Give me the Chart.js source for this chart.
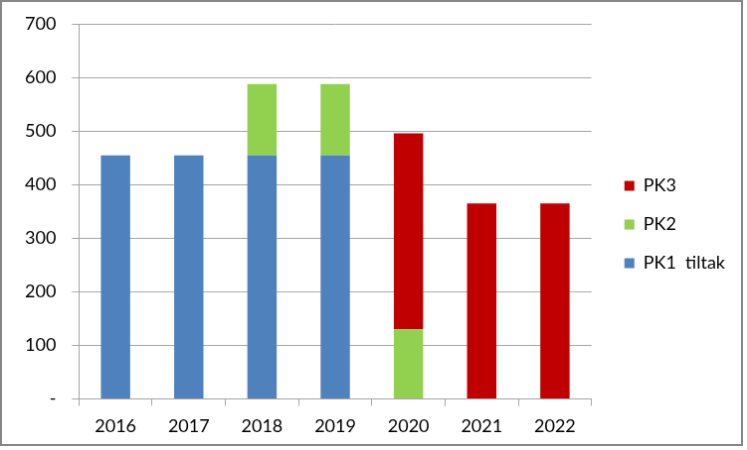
<!DOCTYPE html>
<html>
<head>
<meta charset="utf-8">
<script src="https://cdn.jsdelivr.net/npm/chart.js@4/dist/chart.umd.min.js"></script>
<style>
  body { margin: 0; background: #fff; }
  #chart { display: block; border: 2px solid #878787; }
</style>
</head>
<body>
<canvas id="chart" width="743" height="446"></canvas>
<script>
// kategorier og verdier
const years = ["2016", "2017", "2018", "2019", "2020", "2021", "2022"];
const pk1 = [455, 455, 455, 455, 0, 0, 0];   // PK1 tiltak
const pk2 = [0, 0, 133, 133, 130, 0, 0];     // PK2
const pk3 = [0, 0, 0, 0, 366, 365, 365];     // PK3
const yTicks = [0, 100, 200, 300, 400, 500, 600, 700];

const gridColor = "#a6a6a6";
const fontFam = "Lato, 'Open Sans', sans-serif";

// flytter legenden litt til høyre
const legendShift = {
  id: "legendShift",
  afterLayout(chart) {
    chart.legend.left += 12;
    chart.legend.right += 12;
  }
};

const config = {
  type: "bar",
  data: {
    labels: years,
    datasets: [
      { label: "PK1  tiltak", data: pk1, backgroundColor: "#4f81bd" },
      { label: "PK2", data: pk2, backgroundColor: "#92d050" },
      { label: "PK3", data: pk3, backgroundColor: "#c00000" }
    ]
  },
  options: {
    responsive: false,
    animation: false,
    categoryPercentage: 1,
    barPercentage: 0.4,
    layout: { padding: { top: 0, left: 7, right: 18, bottom: -3 } },
    plugins: {
      tooltip: { enabled: false },
      legend: {
        position: "right",
        reverse: true,
        labels: {
          boxWidth: 10,
          boxHeight: 10,
          padding: 21,
          color: "#000",
          font: { family: fontFam, size: 18 }
        }
      }
    },
    scales: {
      x: {
        stacked: true,
        grid: { drawOnChartArea: false, drawTicks: true, tickLength: 7, color: gridColor, offset: true },
        border: { color: gridColor },
        ticks: { color: "#000", padding: 10, font: { family: fontFam, size: 18 } }
      },
      y: {
        stacked: true,
        min: 0,
        max: 700,
        afterBuildTicks: (axis) => { axis.ticks = yTicks.map(v => ({ value: v })); },
        grid: { color: gridColor, tickLength: 7 },
        border: { color: gridColor },
        ticks: {
          color: "#000",
          padding: 16,
          font: { family: fontFam, size: 18, lineHeight: 0.7 },
          callback: (v) => v === 0 ? "-" : v
        }
      }
    }
  },
  plugins: [legendShift]
};

let myChart = new Chart(document.getElementById("chart"), config);
</script>
</body>
</html>
